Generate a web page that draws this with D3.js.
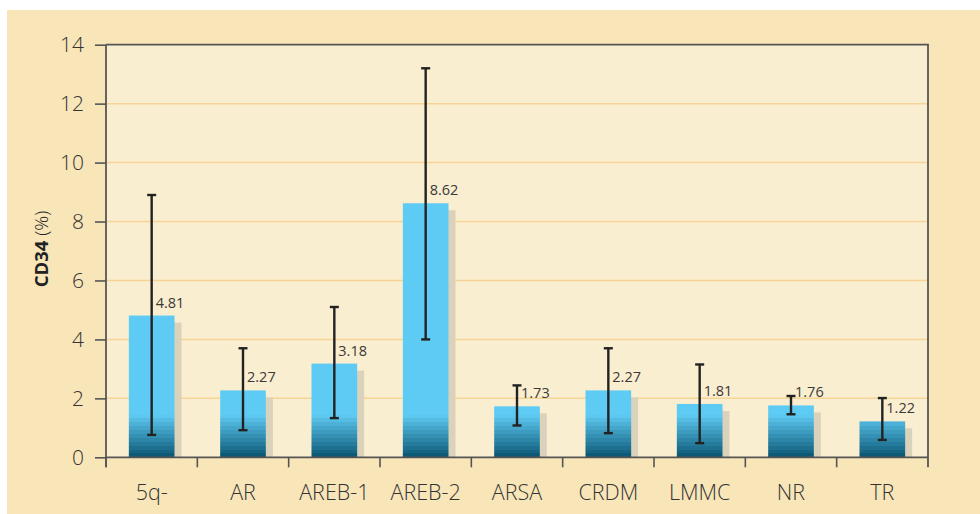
<!DOCTYPE html>
<html><head><meta charset="utf-8">
<script src="https://cdn.jsdelivr.net/npm/d3@7"></script>
<style>
html,body{margin:0;padding:0;background:#fff;}
svg text{font-family:"Open Sans","Noto Sans",sans-serif;}
</style></head>
<body><svg id="c" width="980" height="514"></svg>
<script>
const categories = ["5q-","AR","AREB-1","AREB-2","ARSA","CRDM","LMMC","NR","TR"];
const values     = [4.81, 2.27, 3.18, 8.62, 1.73, 2.27, 1.81, 1.76, 1.22];
const errHigh    = [8.9, 3.7, 5.1, 13.2, 2.44, 3.7, 3.15, 2.08, 2.01];
const errLow     = [0.76, 0.92, 1.33, 4.0, 1.08, 0.82, 0.48, 1.46, 0.59];
const yTicks     = [0,2,4,6,8,10,12,14];
const yLabelBold = "CD34";
const yLabelRest = " (%)";

const svg = d3.select("#c");
const W = 980, H = 514;
const m = {left:106, top:44.7, right:928, bottom:457.3};

svg.append("rect").attr("x",7).attr("y",10).attr("width",W-7).attr("height",H-10).attr("fill","#f8e6b9");
svg.append("rect").attr("x",m.left).attr("y",m.top).attr("width",m.right-m.left).attr("height",m.bottom-m.top).attr("fill","#faeed0");

const x = d3.scaleBand().domain(categories).range([m.left,m.right]).paddingInner(0.5).paddingOuter(0.25);
const y = d3.scaleLinear().domain([0,14]).range([m.bottom,m.top]);

// gradient (stepped) near bar bottoms
const defs = svg.append("defs");
const g = defs.append("linearGradient").attr("id","grad").attr("gradientUnits","userSpaceOnUse")
  .attr("x1",0).attr("x2",0).attr("y1",y(0)).attr("y2",y(1.45));
const steps = 11;
const cBot = d3.rgb("#0d5a77"), cTop = d3.rgb("#5dc7ef");
for(let i=0;i<steps;i++){
  const c = d3.interpolateRgb(cBot,cTop)(i/(steps-1));
  g.append("stop").attr("offset",i/steps).attr("stop-color",c);
  g.append("stop").attr("offset",(i+1)/steps).attr("stop-color",c);
}
g.append("stop").attr("offset",1).attr("stop-color","#5ecbf4");

// grid
svg.append("g").selectAll("line").data(yTicks.filter(d=>d>0 && d<14)).join("line")
  .attr("x1",m.left).attr("x2",m.right).attr("y1",d=>y(d)).attr("y2",d=>y(d))
  .attr("stroke","#f6d496").attr("stroke-width",1.5);

// shadows
svg.append("g").selectAll("rect").data(categories).join("rect")
  .attr("x",d=>x(d)+7).attr("width",x.bandwidth())
  .attr("y",(d,i)=>y(values[i])+7).attr("height",(d,i)=>Math.max(0,y(0)-y(values[i])-7))
  .attr("fill","#dbd2bc");

// bars
svg.append("g").selectAll("rect").data(categories).join("rect")
  .attr("x",d=>x(d)).attr("width",x.bandwidth())
  .attr("y",(d,i)=>y(values[i])).attr("height",(d,i)=>y(0)-y(values[i]))
  .attr("fill","url(#grad)");

// error bars
const eb = svg.append("g").attr("stroke","#222").attr("stroke-width",2.4);
categories.forEach((c,i)=>{
  const cx = x(c)+x.bandwidth()/2;
  eb.append("line").attr("x1",cx).attr("x2",cx).attr("y1",y(errHigh[i])).attr("y2",y(errLow[i]));
  eb.append("line").attr("x1",cx-4.5).attr("x2",cx+4.5).attr("y1",y(errHigh[i])).attr("y2",y(errHigh[i]));
  eb.append("line").attr("x1",cx-4.5).attr("x2",cx+4.5).attr("y1",y(errLow[i])).attr("y2",y(errLow[i]));
});

// value labels
svg.append("g").selectAll("text").data(categories).join("text")
  .attr("x",d=>x(d)+x.bandwidth()/2+4).attr("y",(d,i)=>y(values[i])-8)
  .attr("font-size",14.5).attr("fill","#3a3a3a").attr("font-weight",400)
  .text((d,i)=>values[i].toFixed(2));

// frame
svg.append("path").attr("d",`M${m.left},${m.top}H${m.right}V${m.bottom+10}`).attr("fill","none").attr("stroke","#555").attr("stroke-width",1.8);

// y axis
const ya = svg.append("g").attr("transform",`translate(${m.left},0)`)
  .call(d3.axisLeft(y).tickValues(yTicks).tickSize(11).tickPadding(11).tickSizeOuter(0));
ya.select(".domain").attr("stroke","#555").attr("stroke-width",1.8).attr("d",`M0,${m.top}V${m.bottom+10}`);
ya.selectAll(".tick line").attr("stroke","#555").attr("stroke-width",1.6);
ya.selectAll(".tick text").attr("font-size",21).attr("fill","#333").attr("font-family","Open Sans").attr("font-weight",300);

// x axis
const xa = svg.append("g").attr("transform",`translate(0,${m.bottom})`);
xa.append("line").attr("x1",m.left).attr("x2",m.right).attr("stroke","#555").attr("stroke-width",1.8);
const bounds = categories.map(c=>x(c)-x.step()*0.25);
xa.selectAll("line.t").data(bounds).join("line").attr("class","t")
  .attr("x1",d=>d).attr("x2",d=>d).attr("y1",0).attr("y2",10).attr("stroke","#555").attr("stroke-width",1.6);
xa.selectAll("text").data(categories).join("text")
  .attr("x",d=>x(d)+x.bandwidth()/2).attr("y",43).attr("text-anchor","middle")
  .attr("font-size",21.5).attr("fill","#333").attr("font-weight",300)
  .text(d=>d);

// y label
const yl = svg.append("text").attr("transform","translate(48,249) rotate(-90)").attr("text-anchor","middle")
  .attr("font-size",18.5).attr("fill","#222");
yl.append("tspan").attr("font-weight","bold").text(yLabelBold);
yl.append("tspan").attr("font-weight",300).text(yLabelRest);
</script></body></html>
